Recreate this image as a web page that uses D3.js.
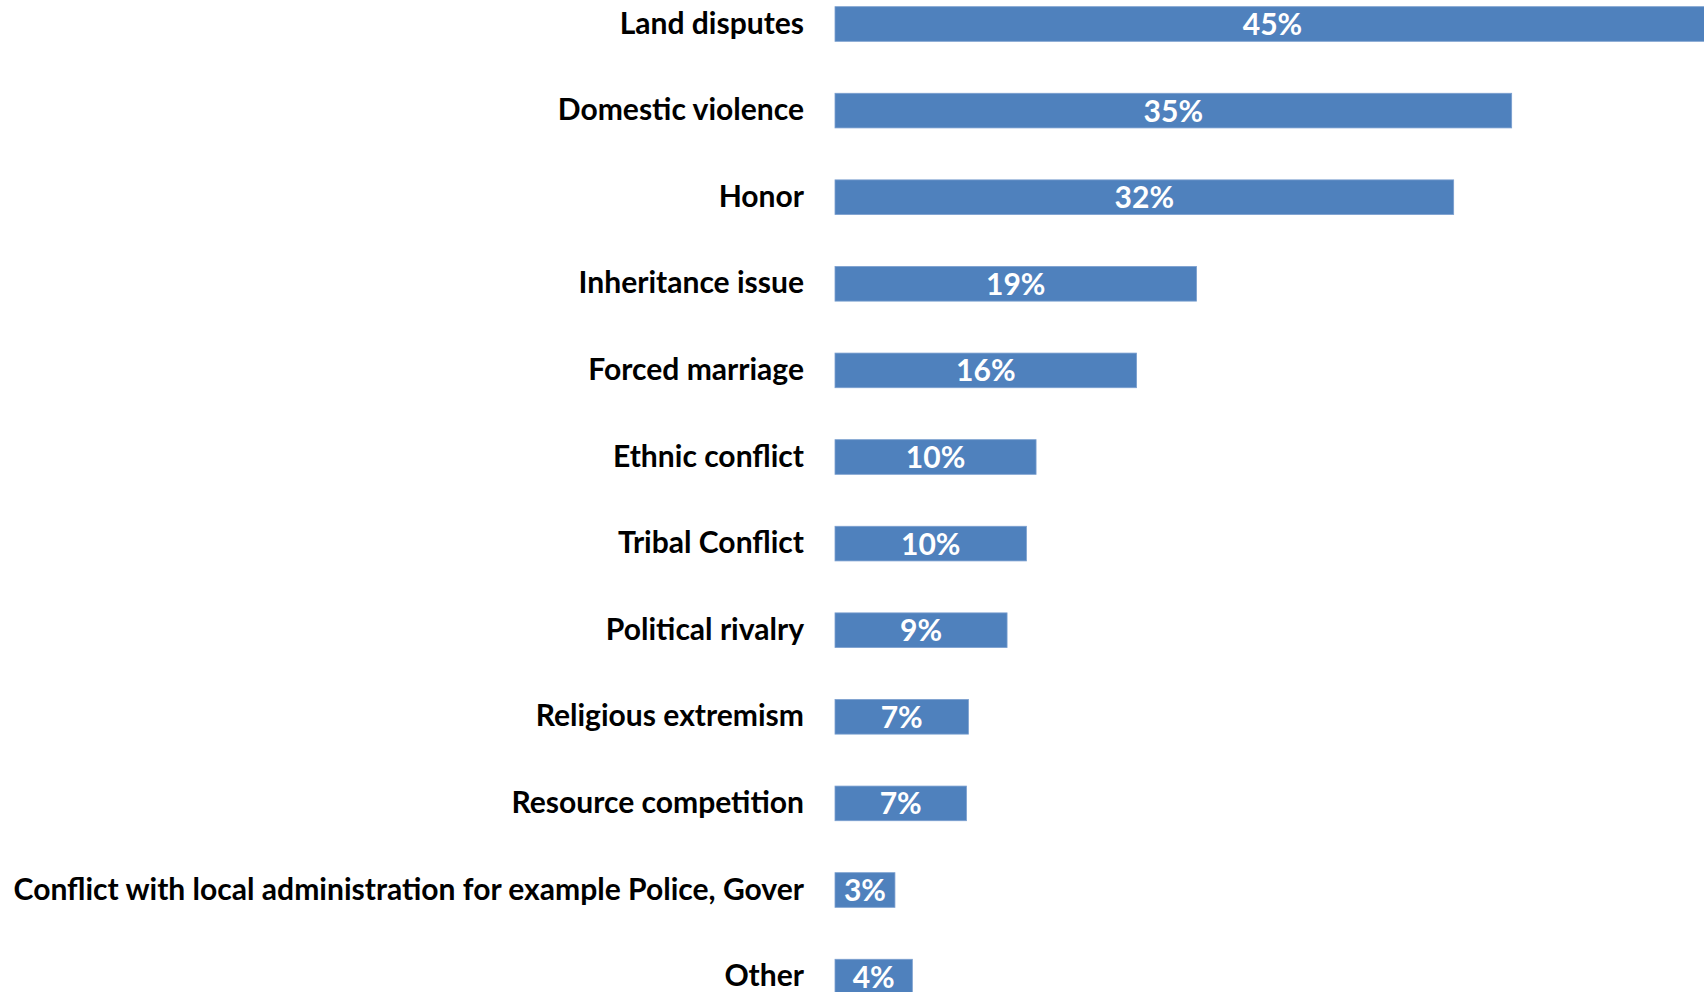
<!DOCTYPE html>
<html>
<head>
<meta charset="utf-8">
<script src="https://cdn.jsdelivr.net/npm/d3@7"></script>
<style>
  html, body { margin: 0; padding: 0; background: #ffffff; }
  svg { display: block; }
  text { font-family: "Lato", "Open Sans", sans-serif; font-weight: 700; }
</style>
</head>
<body>
<svg id="chart" width="1704" height="992"></svg>
<script>
const categories = [
  "Land disputes",
  "Domestic violence",
  "Honor",
  "Inheritance issue",
  "Forced marriage",
  "Ethnic conflict",
  "Tribal Conflict",
  "Political rivalry",
  "Religious extremism",
  "Resource competition",
  "Conflict with local administration for example Police, Gover",
  "Other"
];
const values = [45.0, 35.0, 32.0, 18.7, 15.6, 10.4, 9.9, 8.9, 6.9, 6.8, 3.1, 4.0];
const valueLabels = ["45%", "35%", "32%", "19%", "16%", "10%", "10%", "9%", "7%", "7%", "3%", "4%"];

const W = 1704, H = 992;
const svg = d3.select("#chart");

const x = d3.scaleLinear().domain([0, 45]).range([835, 1705]);
const y = d3.scaleBand().domain(categories).range([-19.3, 1019.9]).paddingInner(0.6).paddingOuter(0.3);

const data = categories.map((c, i) => ({ c, v: values[i], l: valueLabels[i] }));

// Fit label font size so that the longest label spans the reference width
const targetLongest = 791;
const probe = svg.append("text").attr("font-size", 32).text(categories[10]);
const probeW = probe.node().getComputedTextLength();
probe.remove();
const labelSize = Math.min(32, 32 * targetLongest / probeW);

svg.append("g").selectAll("rect")
  .data(data)
  .join("rect")
  .attr("x", x(0))
  .attr("y", d => y(d.c))
  .attr("width", d => x(d.v) - x(0))
  .attr("height", y.bandwidth())
  .attr("fill", "#4F81BD")
  .attr("stroke", "#7A9FCF")
  .attr("stroke-width", 0.8);

svg.append("g").selectAll("text")
  .data(data)
  .join("text")
  .attr("x", 804)
  .attr("y", d => y(d.c) + y.bandwidth() / 2 - 2.5)
  .attr("text-anchor", "end")
  .attr("dominant-baseline", "central")
  .attr("font-size", labelSize)
  .attr("fill", "#000000")
  .text(d => d.c);

svg.append("g").selectAll("text")
  .data(data)
  .join("text")
  .attr("x", d => (x(0) + Math.min(x(d.v), W)) / 2 + (d.v >= 45 ? 3 : 0))
  .attr("y", d => y(d.c) + y.bandwidth() / 2 - 1)
  .attr("text-anchor", "middle")
  .attr("dominant-baseline", "central")
  .attr("font-size", labelSize)
  .attr("fill", "#ffffff")
  .text(d => d.l);
</script>
</body>
</html>
